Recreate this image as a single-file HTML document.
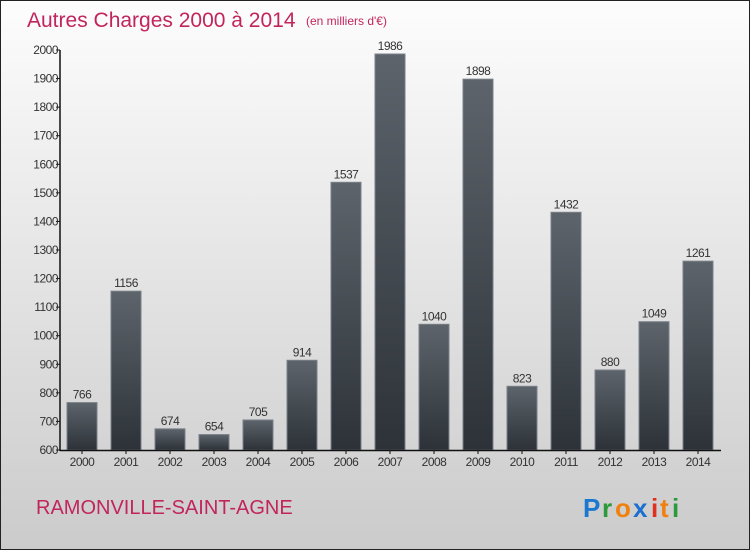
<!DOCTYPE html>
<html><head><meta charset="utf-8"><style>
html,body{margin:0;padding:0}
body{width:750px;height:550px;overflow:hidden;font-family:"Liberation Sans",sans-serif}
#wrap{position:relative;width:748px;height:548px;border:1px solid #222;background:linear-gradient(#fdfdfd,#cbcbcb)}
</style></head><body>
<div id="wrap">
<svg id="c" width="748" height="548">
<defs><linearGradient id="g" x1="0" y1="0" x2="0" y2="1"><stop offset="0" stop-color="#5d646b"/><stop offset="1" stop-color="#2c3238"/></linearGradient></defs>
<text x="26" y="26" font-size="21" fill="#c2255c">Autres Charges 2000 à 2014</text>
<text x="305" y="24" font-size="12" fill="#c2255c">(en milliers d'€)</text>
<text x="35" y="513" font-size="20" fill="#c2255c">RAMONVILLE-SAINT-AGNE</text>
<g font-size="26" font-weight="bold">
<text x="582" y="516" fill="#1a78d0">P</text><text x="601" y="516" fill="#2a9a3a">r</text><text x="614" y="516" fill="#f08010">o</text><text x="632" y="516" fill="#1a6fd0">x</text><text x="650" y="516" fill="#e03020">i</text><text x="659" y="516" fill="#f08010">t</text><text x="671" y="516" fill="#2a9a3a">i</text>
</g>
</svg>
</div>
<script>
const years=["2000","2001","2002","2003","2004","2005","2006","2007","2008","2009","2010","2011","2012","2013","2014"];
const values=[766,1156,674,654,705,914,1537,1986,1040,1898,823,1432,880,1049,1261];
const yTicks=[600,700,800,900,1000,1100,1200,1300,1400,1500,1600,1700,1800,1900,2000];
const svg=document.getElementById('c');const NS='http://www.w3.org/2000/svg';
const x0=59,band=44,yMin=600,yMax=2000,yTop=49,yBot=449;
const y=v=>yBot-(v-yMin)/(yMax-yMin)*(yBot-yTop);
const xb=i=>x0+i*band;
function mk(t,a,txt){const e=document.createElementNS(NS,t);for(const k in a)e.setAttribute(k,a[k]);if(txt!==undefined)e.textContent=txt;svg.appendChild(e);return e;}
yTicks.forEach(v=>{
const t=mk('line',{x1:x0-4,x2:x0,y1:y(v),y2:y(v),stroke:'#111'});


const l=mk('text',{x:x0-2,y:y(v)+4,'font-size':12,'text-anchor':'end',fill:'#333','letter-spacing':'-0.5'},v);


});
values.forEach((v,i)=>{
const b=mk('rect',{x:xb(i)+7,y:y(v),width:30,height:yBot-y(v),fill:'url(#g)',stroke:'#7a8088','stroke-width':1});


const l=mk('text',{x:xb(i)+22,y:y(v)-4,'font-size':12,'text-anchor':'middle',fill:'#333','letter-spacing':'-0.5'},v);


const xl=mk('text',{x:xb(i)+22,y:yBot+16,'font-size':12,'text-anchor':'middle',fill:'#333','letter-spacing':'-0.5'},years[i]);


const xt=mk('line',{x1:xb(i)+22,x2:xb(i)+22,y1:yBot,y2:yBot+4,stroke:'#111'});


});
const ya=mk('line',{x1:x0,x2:x0,y1:yTop,y2:yBot+1,stroke:'#111','stroke-width':1.5});


const xa=mk('line',{x1:x0,x2:x0+15*band+1,y1:yBot+0.5,y2:yBot+0.5,stroke:'#111','stroke-width':1.5});


</script>
</body></html>
